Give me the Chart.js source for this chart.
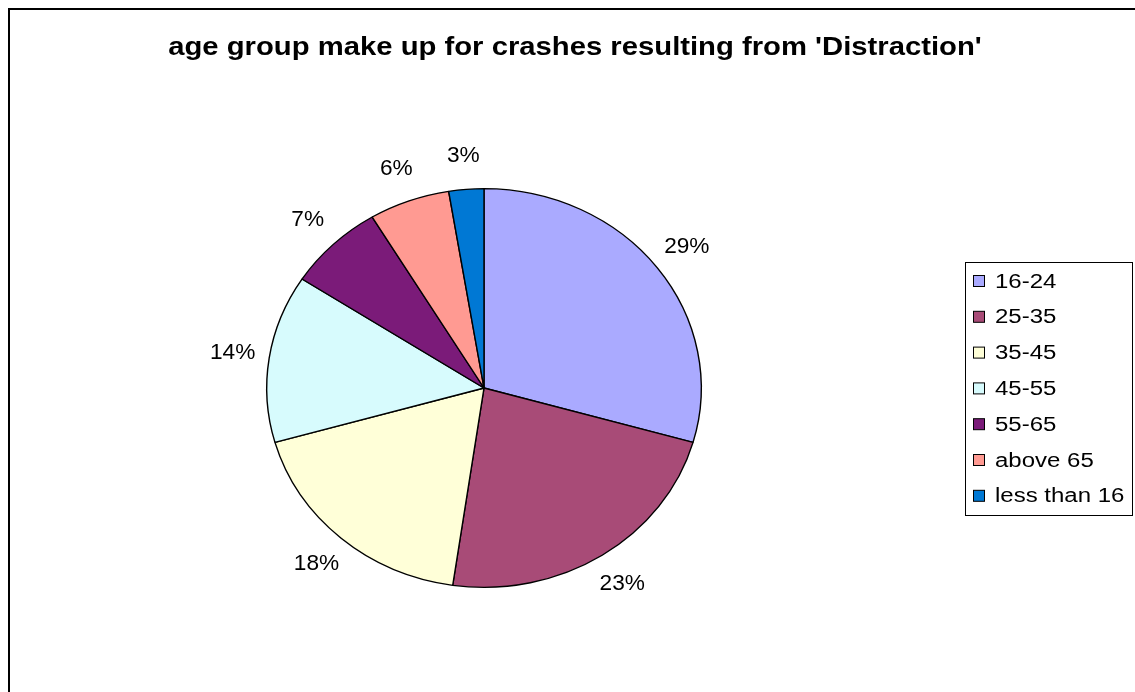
<!DOCTYPE html>
<html>
<head>
<meta charset="utf-8">
<script src="https://cdn.jsdelivr.net/npm/chart.js@4.4.0/dist/chart.umd.min.js"></script>
<style>
html,body{margin:0;padding:0;background:#fff;}
#wrap{position:relative;width:1135px;height:692px;}
</style>
</head>
<body>
<div id="wrap"><canvas id="c" width="1135" height="692"></canvas></div>
<script>
const categories = ['16-24', '25-35', '35-45', '45-55', '55-65', 'above 65', 'less than 16'];
const values = [29.4, 22.9, 18.3, 13.6, 7.2, 6.0, 2.6];
const sliceColors = ['#AAAAFF', '#A84B77', '#FFFFD8', '#D7FBFD', '#7B1B79', '#FF9A92', '#0078D4'];
const titleText = "age group make up for crashes resulting from 'Distraction'";

const FONT = "'Liberation Sans', Arial, sans-serif";
const XSCALE = 1.09;

function stretchedText(ctx, text, x, y, sx, align) {
  ctx.save();
  ctx.translate(x, y);
  ctx.scale(sx, 1);
  ctx.textAlign = align;
  ctx.fillText(text, 0, 0);
  ctx.restore();
}

const framePlugin = {
  id: 'frame',
  beforeDraw(chart) {
    const ctx = chart.ctx;
    ctx.save();
    ctx.fillStyle = '#fff';
    ctx.fillRect(0, 0, chart.width, chart.height);
    ctx.strokeStyle = '#000';
    ctx.lineWidth = 2;
    ctx.beginPath();
    ctx.moveTo(9, chart.height);
    ctx.lineTo(9, 9);
    ctx.lineTo(chart.width, 9);
    ctx.stroke();
    ctx.restore();
  }
};

const ellipsePlugin = {
  id: 'ellipse',
  beforeDatasetsDraw(chart) {
    const a = chart.getDatasetMeta(0).data[0];
    const ctx = chart.ctx;
    ctx.save();
    ctx.translate(a.x, a.y);
    ctx.scale(XSCALE, 1);
    ctx.translate(-a.x, -a.y);
  },
  afterDatasetsDraw(chart) {
    chart.ctx.restore();
    const ctx = chart.ctx;
    const meta = chart.getDatasetMeta(0);
    const data = chart.data.datasets[0].data;
    const total = data.reduce((s, v) => s + v, 0);
    ctx.save();
    ctx.font = '22px ' + FONT;
    ctx.fillStyle = '#000';
    ctx.textBaseline = 'middle';
    meta.data.forEach((arc, i) => {
      const mid = (arc.startAngle + arc.endAngle) / 2;
      const r = arc.outerRadius * 1.17;
      const x = arc.x + XSCALE * r * Math.cos(mid);
      const y = arc.y + r * Math.sin(mid);
      stretchedText(ctx, Math.round(data[i] / total * 100) + '%', x, y, 1.03, 'center');
    });
    ctx.restore();
  }
};

const legendPlugin = {
  id: 'boxLegend',
  afterDraw(chart) {
    const ctx = chart.ctx;
    const labels = chart.data.labels;
    const cols = chart.data.datasets[0].backgroundColor;
    ctx.save();
    ctx.strokeStyle = '#000';
    ctx.lineWidth = 1;
    ctx.strokeRect(965.5, 262.5, 167, 253);
    ctx.font = '20px ' + FONT;
    ctx.textBaseline = 'middle';
    labels.forEach((l, i) => {
      const y = 281 + i * 35.8;
      ctx.fillStyle = cols[i];
      ctx.fillRect(973.5, y - 5.5, 11, 11);
      ctx.strokeStyle = '#000';
      ctx.strokeRect(973.5, y - 5.5, 11, 11);
      ctx.fillStyle = '#000';
      stretchedText(ctx, l, 995, y + 1, 1.2, 'left');
    });
    ctx.restore();
  }
};

const titlePlugin = {
  id: 'titleText',
  afterDraw(chart) {
    const ctx = chart.ctx;
    ctx.save();
    ctx.font = 'bold 25px ' + FONT;
    ctx.fillStyle = '#000';
    ctx.textBaseline = 'middle';
    stretchedText(ctx, titleText, 575, 48, 1.17, 'center');
    ctx.restore();
  }
};

new Chart(document.getElementById('c'), {
  type: 'pie',
  data: {
    labels: categories,
    datasets: [{
      data: values,
      backgroundColor: sliceColors,
      borderColor: '#000',
      borderWidth: 1.3,
      borderAlign: 'center'
    }]
  },
  options: {
    responsive: false,
    animation: false,
    events: [],
    layout: { padding: { left: 284, right: 451, top: 188, bottom: 104 } },
    plugins: {
      legend: { display: false },
      tooltip: { enabled: false },
      title: { display: false }
    }
  },
  plugins: [framePlugin, ellipsePlugin, legendPlugin, titlePlugin]
});
</script>
</body>
</html>
